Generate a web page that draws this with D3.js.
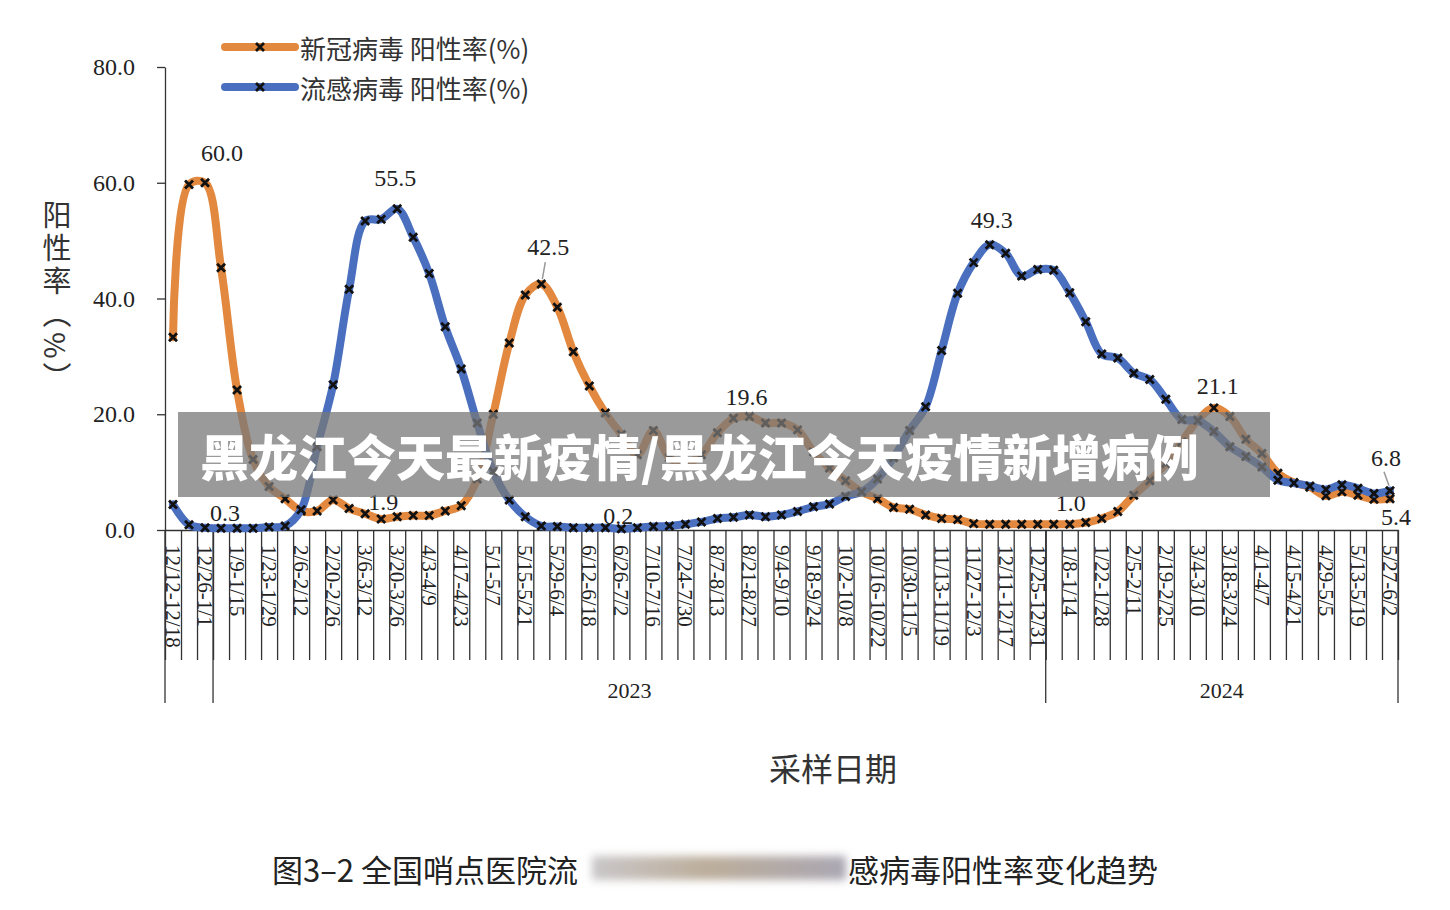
<!DOCTYPE html>
<html>
<head>
<meta charset="utf-8">
<script src="https://cdn.jsdelivr.net/npm/d3@7"></script>
<style>
  body { margin: 0; background: #fff; }
  svg { display: block; }
</style>
</head>
<body>
<svg width="1450" height="910"></svg>
<script>
// 采样周 (每周一个点)
var weeks = [
  "12/12-12/18", "12/19-12/25", "12/26-1/1", "1/2-1/8", "1/9-1/15", "1/16-1/22", "1/23-1/29", "1/30-2/5",
  "2/6-2/12", "2/13-2/19", "2/20-2/26", "2/27-3/5", "3/6-3/12", "3/13-3/19", "3/20-3/26", "3/27-4/2",
  "4/3-4/9", "4/10-4/16", "4/17-4/23", "4/24-4/30", "5/1-5/7", "5/8-5/14", "5/15-5/21", "5/22-5/28",
  "5/29-6/4", "6/5-6/11", "6/12-6/18", "6/19-6/25", "6/26-7/2", "7/3-7/9", "7/10-7/16", "7/17-7/23",
  "7/24-7/30", "7/31-8/6", "8/7-8/13", "8/14-8/20", "8/21-8/27", "8/28-9/3", "9/4-9/10", "9/11-9/17",
  "9/18-9/24", "9/25-10/1", "10/2-10/8", "10/9-10/15", "10/16-10/22", "10/23-10/29", "10/30-11/5", "11/6-11/12",
  "11/13-11/19", "11/20-11/26", "11/27-12/3", "12/4-12/10", "12/11-12/17", "12/18-12/24", "12/25-12/31", "1/1-1/7",
  "1/8-1/14", "1/15-1/21", "1/22-1/28", "1/29-2/4", "2/5-2/11", "2/12-2/18", "2/19-2/25", "2/26-3/3",
  "3/4-3/10", "3/11-3/17", "3/18-3/24", "3/25-3/31", "4/1-4/7", "4/8-4/14", "4/15-4/21", "4/22-4/28",
  "4/29-5/5", "5/6-5/12", "5/13-5/19", "5/20-5/26", "5/27-6/2"
]

// 新冠病毒 阳性率(%)
var covid = [33.3, 59.7, 60.0, 45.3, 24.2, 12.2, 7.5, 5.4, 3.3, 3.3,
  5.2, 3.7, 2.8, 1.9, 2.3, 2.5, 2.5, 3.3, 4.2, 8.8,
  20.0, 32.3, 40.6, 42.5, 38.5, 30.8, 24.9, 20.2, 16.5, 13.0,
  17.2, 12.5, 11.5, 13.0, 16.8, 19.3, 19.6, 18.5, 18.5, 17.3,
  13.5, 10.7, 8.5, 6.6, 5.4, 3.9, 3.6, 2.6, 2.0, 1.8,
  1.1, 1.0, 1.0, 1.0, 1.0, 1.0, 1.0, 1.3, 2.0, 3.2,
  6.0, 8.5, 11.5, 15.2, 19.0, 21.1, 19.6, 15.7, 13.2, 9.8,
  8.2, 7.4, 5.9, 6.6, 6.0, 5.3, 5.4]

// 流感病毒 阳性率(%)
var flu = [4.4, 0.9, 0.4, 0.3, 0.3, 0.3, 0.5, 0.7, 3.5, 14.4,
  25.1, 41.6, 53.4, 53.7, 55.5, 50.6, 44.3, 35.1, 27.8, 18.5,
  10.1, 5.2, 2.3, 0.7, 0.6, 0.4, 0.4, 0.4, 0.2, 0.4,
  0.6, 0.7, 1.0, 1.4, 2.0, 2.2, 2.6, 2.3, 2.6, 3.2,
  4.0, 4.5, 5.8, 6.6, 8.8, 12.5, 17.2, 21.3, 31.0, 40.9,
  46.2, 49.3, 47.8, 43.9, 45.0, 44.9, 41.0, 36.0, 30.4, 29.7,
  27.1, 26.0, 22.6, 19.1, 18.9, 17.0, 14.4, 12.7, 10.9, 8.6,
  8.1, 7.6, 7.0, 7.8, 7.2, 6.3, 6.8]

var years = ["2023", "2024"]
var yearFirstWeek = [3, 55]
var yTicks = [0, 20, 40, 60, 80]

// 标注数值的周序号
var covidLabelWeeks = [2, 13, 23, 36, 56, 65, 76]
var fluLabelWeeks = [3, 14, 28, 51, 76]

var seriesNames = ["新冠病毒 阳性率(%)", "流感病毒 阳性率(%)"]
var colors = ["#e2883f", "#4a6fbf"]

var serif = "'Liberation Serif', 'Times New Roman', serif"
var cjk = "'Noto Sans CJK SC', sans-serif"

var svg = d3.select("svg")

// 绘图区边界 (注意不能用 top 这个名字, 会和 window.top 冲突)
var plotLeft = 165, plotRight = 1398, plotTop = 67, plotBottom = 530

var x = d3.scaleBand()
    .domain(d3.range(weeks.length))
    .range([plotLeft, plotRight])

// 每周分隔线用的线性比例尺
var xEdge = d3.scaleLinear()
    .domain([0, weeks.length])
    .range([plotLeft, plotRight])

var y = d3.scaleLinear()
    .domain([0, 80])
    .range([plotBottom, plotTop])

var bw = x.bandwidth()
var cx = function(i) { return x(i) + bw / 2 }

// Y 轴
var yAxis = svg.append("g")
    .attr("transform", "translate(" + plotLeft + ",0)")
    .call(d3.axisLeft(y).tickValues(yTicks).tickFormat(d3.format(".1f"))
      .tickSize(8).tickSizeOuter(0).tickPadding(22))

yAxis.selectAll("text")
    .style("font-family", serif)
    .style("font-size", "24px")
    .attr("fill", "#222")
yAxis.selectAll("line, path").attr("stroke", "#333").attr("stroke-width", 1.3)

// X 轴, 每周一条分隔线
var xAxis = svg.append("g")
    .attr("transform", "translate(0," + plotBottom + ")")
    .call(d3.axisBottom(xEdge).tickValues(d3.range(weeks.length + 1))
      .tickFormat("").tickSize(130).tickSizeOuter(0))
xAxis.selectAll("line, path").attr("stroke", "#333").attr("stroke-width", 1.3)

// 年份分隔线
var yearEdges = [0].concat(yearFirstWeek).concat([weeks.length])
svg.append("g")
  .selectAll("line")
  .data(yearEdges)
  .enter().append("line")
    .attr("x1", function(d) { return xEdge(d) })
    .attr("x2", function(d) { return xEdge(d) })
    .attr("y1", plotBottom)
    .attr("y2", plotBottom + 173)
    .attr("stroke", "#333")
    .attr("stroke-width", 1.3)

// 周标签 (隔周显示)
svg.append("g")
  .selectAll("text")
  .data(weeks.filter(function(d, i) { return i % 2 === 0 }))
  .enter().append("text")
    .attr("transform", function(d, k) { return "translate(" + cx(k * 2) + "," + (plotBottom + 15) + ") rotate(90)" })
    .attr("dominant-baseline", "central")
    .style("font-family", serif)
    .style("font-size", "21px")
    .attr("fill", "#222")
    .text(function(d) { return d })

// 年份
svg.append("g")
  .selectAll("text")
  .data(years)
  .enter().append("text")
    .attr("x", function(d, i) {
      var end = i + 1 < yearFirstWeek.length ? yearFirstWeek[i + 1] : weeks.length
      return (xEdge(yearFirstWeek[i]) + xEdge(end)) / 2
    })
    .attr("y", 690)
    .attr("text-anchor", "middle")
    .attr("dominant-baseline", "central")
    .style("font-family", serif)
    .style("font-size", "22px")
    .attr("fill", "#222")
    .text(function(d) { return d })

// 折线
var line = d3.line()
    .x(function(d, i) { return cx(i) })
    .y(function(d) { return y(d) })
    .curve(d3.curveCatmullRom.alpha(0.5))

var cross = "M-4,-4L4,4M-4,4L4,-4"

;[covid, flu].forEach(function(values, s) {
  var g = svg.append("g")
  g.append("path")
    .attr("d", line(values))
    .attr("fill", "none")
    .attr("stroke", colors[s])
    .attr("stroke-width", 8)
    .attr("stroke-linejoin", "round")
    .attr("stroke-linecap", "round")
  g.selectAll("path.mark")
    .data(values)
    .enter().append("path")
      .attr("class", "mark")
      .attr("d", cross)
      .attr("transform", function(d, i) { return "translate(" + cx(i) + "," + y(d) + ")" })
      .attr("stroke", "#111")
      .attr("stroke-width", 2.8)
})

// 数值标注, 偏移量 [dx, dy]
var covidOffsets = { 2: [17, -30], 13: [2, -17], 23: [7, -37], 36: [-3, -20], 56: [1, -21], 65: [4, -22], 76: [6, 18] }
var fluOffsets = { 3: [4, -15], 14: [-2, -31], 28: [-3, -13], 51: [2, -25], 76: [-4, -33] }

function labels(values, idx, offsets) {
  svg.append("g")
    .selectAll("text")
    .data(idx)
    .enter().append("text")
      .attr("x", function(i) { return cx(i) + offsets[i][0] })
      .attr("y", function(i) { return y(values[i]) + offsets[i][1] })
      .attr("text-anchor", "middle")
      .attr("dominant-baseline", "central")
      .style("font-family", serif)
      .style("font-size", "24px")
      .attr("fill", "#222")
      .text(function(i) { return d3.format(".1f")(values[i]) })
}
labels(covid, covidLabelWeeks, covidOffsets)
labels(flu, fluLabelWeeks, fluOffsets)

// 引线
svg.append("line")
    .attr("x1", cx(23) + 4).attr("y1", y(covid[23]) - 22)
    .attr("x2", cx(23) + 1).attr("y2", y(covid[23]) - 5)
    .attr("stroke", "#999").attr("stroke-width", 1.5)
svg.append("line")
    .attr("x1", cx(76) - 6).attr("y1", y(flu[76]) - 19)
    .attr("x2", cx(76) - 1).attr("y2", y(flu[76]) - 5)
    .attr("stroke", "#999").attr("stroke-width", 1.5)

// 图例
var legend = svg.append("g")
  .selectAll("g")
  .data(seriesNames)
  .enter().append("g")
    .attr("transform", function(d, i) { return "translate(225," + (47 + i * 40) + ")" })

legend.append("line")
    .attr("x1", 0).attr("x2", 70)
    .attr("stroke", function(d, i) { return colors[i] })
    .attr("stroke-width", 8)
    .attr("stroke-linecap", "round")
legend.append("path")
    .attr("d", cross)
    .attr("transform", "translate(35,0)")
    .attr("stroke", "#111")
    .attr("stroke-width", 2.8)
legend.append("text")
    .attr("x", 75)
    .attr("dominant-baseline", "central")
    .style("font-family", cjk)
    .style("font-size", "26px")
    .attr("fill", "#333")
    .text(function(d) { return d })

// Y 轴标题 (竖排)
svg.append("text")
    .attr("x", 57).attr("y", 200)
    .style("writing-mode", "vertical-rl")
    .style("font-family", cjk)
    .style("font-size", "29px")
    .style("letter-spacing", "4px")
    .attr("fill", "#333")
    .text("阳性率（%）")

// X 轴标题
svg.append("text")
    .attr("x", 833).attr("y", 767)
    .attr("text-anchor", "middle")
    .attr("dominant-baseline", "central")
    .style("font-family", cjk)
    .style("font-size", "32px")
    .attr("fill", "#333")
    .text("采样日期")

// 图注
var defs = svg.append("defs")
defs.append("filter").attr("id", "blur")
    .attr("x", "-10%").attr("y", "-40%").attr("width", "120%").attr("height", "180%")
  .append("feGaussianBlur").attr("stdDeviation", 4)
var grad = defs.append("linearGradient").attr("id", "smear")
grad.append("stop").attr("offset", "0%").attr("stop-color", "#c9c6c8")
grad.append("stop").attr("offset", "45%").attr("stop-color", "#bcae9b")
grad.append("stop").attr("offset", "100%").attr("stop-color", "#aaa6b2")

svg.append("text")
    .attr("x", 272).attr("y", 868)
    .attr("dominant-baseline", "central")
    .style("font-family", cjk)
    .style("font-size", "31px")
    .attr("fill", "#222")
    .text("图3–2 全国哨点医院流")
svg.append("rect")
    .attr("x", 592).attr("y", 856).attr("width", 254).attr("height", 24)
    .attr("fill", "url(#smear)")
    .attr("filter", "url(#blur)")
svg.append("text")
    .attr("x", 848).attr("y", 868)
    .attr("dominant-baseline", "central")
    .style("font-family", cjk)
    .style("font-size", "31px")
    .attr("fill", "#222")
    .text("感病毒阳性率变化趋势")

// 标题遮罩条
svg.append("rect")
    .attr("x", 178).attr("y", 412)
    .attr("width", 1092).attr("height", 85)
    .attr("fill", "#787878")
    .attr("opacity", 0.75)
svg.append("text")
    .attr("x", 200).attr("y", 454)
    .attr("dominant-baseline", "central")
    .style("font-family", cjk)
    .style("font-size", "49px")
    .style("font-weight", 900)
    .attr("fill", "#fff")
    .text("黑龙江今天最新疫情/黑龙江今天疫情新增病例")
</script>
</body>
</html>
